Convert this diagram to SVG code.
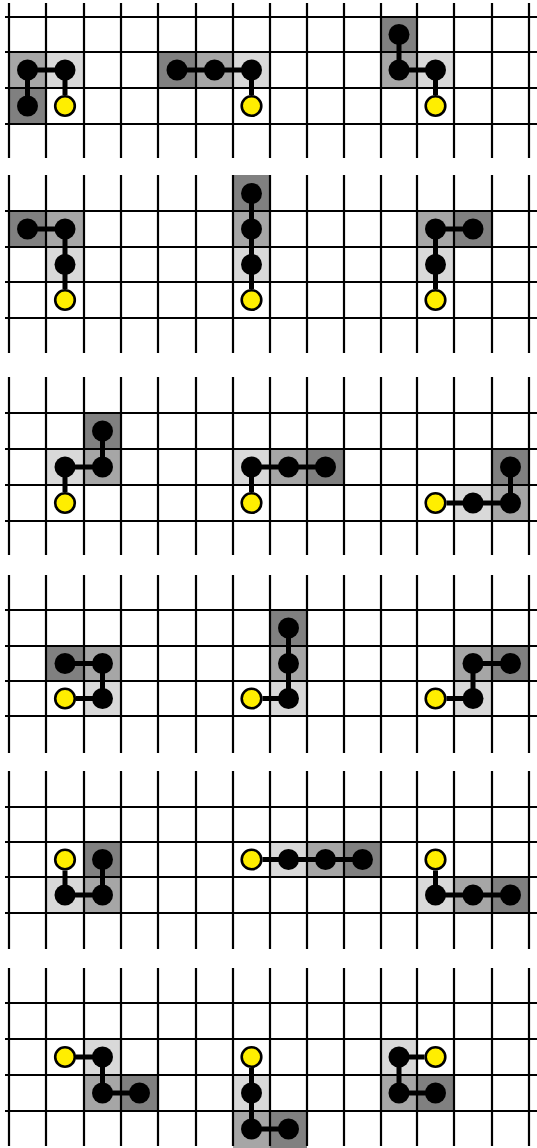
<svg xmlns="http://www.w3.org/2000/svg" xmlns:xlink="http://www.w3.org/1999/xlink" width="537" height="1148" viewBox="0 0 537 1148">
<style>
.grid{stroke:#000;stroke-width:2.2;fill:none}
.l{fill:#d9d9d9}
.m{fill:#a6a6a6}
.d{fill:#808080}
.con{stroke:#000;stroke-width:5;fill:none;stroke-linejoin:miter}
.b{fill:#000}
.y{fill:#ffee00;stroke:#000;stroke-width:2.6}
</style>
<defs>
<path id="vcols" d="M9 0V178M46 0V178M84 0V178M121 0V178M158 0V178M196 0V178M233 0V178M270 0V178M307 0V178M344 0V178M381 0V178M417 0V178M454 0V178M492 0V178M529 0V178"/>
</defs>
<rect width="537" height="1148" fill="#fff"/>

<!-- nodes: shaded cells and dots -->
<g id="pieceA"><rect class="l" x="46" y="52" width="38" height="36"/><rect class="m" x="9" y="52" width="37" height="36"/><rect class="d" x="9" y="88" width="37" height="36"/></g>
<g id="pieceB"><rect class="l" x="233" y="52" width="37" height="36"/><rect class="m" x="196" y="52" width="37" height="36"/><rect class="d" x="158" y="52" width="38" height="36"/></g>
<g id="pieceC"><rect class="l" x="417" y="52" width="37" height="36"/><rect class="m" x="381" y="52" width="36" height="36"/><rect class="d" x="381" y="17" width="36" height="35"/></g>
<g id="pieceD"><rect class="l" x="46" y="247" width="38" height="35"/><rect class="m" x="46" y="211" width="38" height="36"/><rect class="d" x="9" y="211" width="37" height="36"/></g>
<g id="pieceE"><rect class="l" x="233" y="247" width="37" height="35"/><rect class="m" x="233" y="211" width="37" height="36"/><rect class="d" x="233" y="175" width="37" height="36"/></g>
<g id="pieceF"><rect class="l" x="417" y="247" width="37" height="35"/><rect class="m" x="417" y="211" width="37" height="36"/><rect class="d" x="454" y="211" width="38" height="36"/></g>
<g id="pieceG"><rect class="l" x="46" y="449" width="38" height="36"/><rect class="m" x="84" y="449" width="37" height="36"/><rect class="d" x="84" y="413" width="37" height="36"/></g>
<g id="pieceH"><rect class="l" x="233" y="449" width="37" height="36"/><rect class="m" x="270" y="449" width="37" height="36"/><rect class="d" x="307" y="449" width="37" height="36"/></g>
<g id="pieceI"><rect class="l" x="454" y="485" width="38" height="36"/><rect class="m" x="492" y="485" width="37" height="36"/><rect class="d" x="492" y="449" width="37" height="36"/></g>
<g id="pieceJ"><rect class="l" x="84" y="681" width="37" height="35"/><rect class="m" x="84" y="646" width="37" height="35"/><rect class="d" x="46" y="646" width="38" height="35"/></g>
<g id="pieceK"><rect class="l" x="270" y="681" width="37" height="35"/><rect class="m" x="270" y="646" width="37" height="35"/><rect class="d" x="270" y="610" width="37" height="36"/></g>
<g id="pieceL"><rect class="l" x="454" y="681" width="38" height="35"/><rect class="m" x="454" y="646" width="38" height="35"/><rect class="d" x="492" y="646" width="37" height="35"/></g>
<g id="pieceM"><rect class="l" x="46" y="877" width="38" height="36"/><rect class="m" x="84" y="877" width="37" height="36"/><rect class="d" x="84" y="842" width="37" height="35"/></g>
<g id="pieceN"><rect class="l" x="270" y="842" width="37" height="35"/><rect class="m" x="307" y="842" width="37" height="35"/><rect class="d" x="344" y="842" width="37" height="35"/></g>
<g id="pieceO"><rect class="l" x="417" y="877" width="37" height="36"/><rect class="m" x="454" y="877" width="38" height="36"/><rect class="d" x="492" y="877" width="37" height="36"/></g>
<g id="pieceP"><rect class="l" x="84" y="1039" width="37" height="36"/><rect class="m" x="84" y="1075" width="37" height="36"/><rect class="d" x="121" y="1075" width="37" height="36"/></g>
<g id="pieceQ"><rect class="l" x="233" y="1075" width="37" height="36"/><rect class="m" x="233" y="1111" width="37" height="37"/><rect class="d" x="270" y="1111" width="37" height="37"/></g>
<g id="pieceR"><rect class="l" x="381" y="1039" width="36" height="36"/><rect class="m" x="381" y="1075" width="36" height="36"/><rect class="d" x="417" y="1075" width="37" height="36"/></g>

<!-- grid -->
<g id="grid" class="grid">
<path d="M9 3V158M46 3V158M84 3V158M121 3V158M158 3V158M196 3V158M233 3V158M270 3V158M307 3V158M344 3V158M381 3V158M417 3V158M454 3V158M492 3V158M529 3V158"/>
<use xlink:href="#vcols" href="#vcols" transform="translate(0,175)"/>
<use xlink:href="#vcols" href="#vcols" transform="translate(0,377)"/>
<use xlink:href="#vcols" href="#vcols" transform="translate(0,575)"/>
<use xlink:href="#vcols" href="#vcols" transform="translate(0,771)"/>
<use xlink:href="#vcols" href="#vcols" transform="translate(0,968)"/>
<path d="M5 17H537M5 52H537M5 88H537M5 124H537
M5 211H537M5 247H537M5 282H537M5 318H537
M5 413H537M5 449H537M5 485H537M5 521H537
M5 610H537M5 646H537M5 681H537M5 716H537
M5 807H537M5 842H537M5 877H537M5 913H537
M5 1003H537M5 1039H537M5 1075H537M5 1111H537"/>
</g>

<!-- connectors -->
<g id="connectors" class="con">
<polyline points="65,95 65,70 27.5,70 27.5,106"/>
<polyline points="251.5,95 251.5,70 177,70"/>
<polyline points="435.5,95 435.5,70 399,70 399,34.5"/>
<polyline points="65,289 65,229 27.5,229"/>
<polyline points="251.5,289 251.5,193.5"/>
<polyline points="435.5,289 435.5,229 473,229"/>
<polyline points="65,492 65,467 102.5,467 102.5,431"/>
<polyline points="251.5,492 251.5,467 325.5,467"/>
<polyline points="446.5,503 510.5,503 510.5,467"/>
<polyline points="76,698.5 102.5,698.5 102.5,663.5 65,663.5"/>
<polyline points="262.5,698.5 288.5,698.5 288.5,628"/>
<polyline points="446.5,698.5 473,698.5 473,663.5 510.5,663.5"/>
<polyline points="65,870.5 65,895 102.5,895 102.5,859.5"/>
<polyline points="262.5,859.5 362.5,859.5"/>
<polyline points="435.5,870.5 435.5,895 510.5,895"/>
<polyline points="76,1057 102.5,1057 102.5,1093 139.5,1093"/>
<polyline points="251.5,1068 251.5,1129 288.5,1129"/>
<polyline points="424.5,1057 399,1057 399,1093 435.5,1093"/>
</g>

<!-- dots -->
<g id="dots">
<g id="dotsA"><circle class="b" cx="65" cy="70" r="10.5"/><circle class="b" cx="27.5" cy="70" r="10.5"/><circle class="b" cx="27.5" cy="106" r="10.5"/><circle class="y" cx="65" cy="106" r="9.8"/></g>
<g id="dotsB"><circle class="b" cx="251.5" cy="70" r="10.5"/><circle class="b" cx="214.5" cy="70" r="10.5"/><circle class="b" cx="177" cy="70" r="10.5"/><circle class="y" cx="251.5" cy="106" r="9.8"/></g>
<g id="dotsC"><circle class="b" cx="435.5" cy="70" r="10.5"/><circle class="b" cx="399" cy="70" r="10.5"/><circle class="b" cx="399" cy="34.5" r="10.5"/><circle class="y" cx="435.5" cy="106" r="9.8"/></g>
<g id="dotsD"><circle class="b" cx="65" cy="264.5" r="10.5"/><circle class="b" cx="65" cy="229" r="10.5"/><circle class="b" cx="27.5" cy="229" r="10.5"/><circle class="y" cx="65" cy="300" r="9.8"/></g>
<g id="dotsE"><circle class="b" cx="251.5" cy="264.5" r="10.5"/><circle class="b" cx="251.5" cy="229" r="10.5"/><circle class="b" cx="251.5" cy="193.5" r="10.5"/><circle class="y" cx="251.5" cy="300" r="9.8"/></g>
<g id="dotsF"><circle class="b" cx="435.5" cy="264.5" r="10.5"/><circle class="b" cx="435.5" cy="229" r="10.5"/><circle class="b" cx="473" cy="229" r="10.5"/><circle class="y" cx="435.5" cy="300" r="9.8"/></g>
<g id="dotsG"><circle class="b" cx="65" cy="467" r="10.5"/><circle class="b" cx="102.5" cy="467" r="10.5"/><circle class="b" cx="102.5" cy="431" r="10.5"/><circle class="y" cx="65" cy="503" r="9.8"/></g>
<g id="dotsH"><circle class="b" cx="251.5" cy="467" r="10.5"/><circle class="b" cx="288.5" cy="467" r="10.5"/><circle class="b" cx="325.5" cy="467" r="10.5"/><circle class="y" cx="251.5" cy="503" r="9.8"/></g>
<g id="dotsI"><circle class="b" cx="473" cy="503" r="10.5"/><circle class="b" cx="510.5" cy="503" r="10.5"/><circle class="b" cx="510.5" cy="467" r="10.5"/><circle class="y" cx="435.5" cy="503" r="9.8"/></g>
<g id="dotsJ"><circle class="b" cx="102.5" cy="698.5" r="10.5"/><circle class="b" cx="102.5" cy="663.5" r="10.5"/><circle class="b" cx="65" cy="663.5" r="10.5"/><circle class="y" cx="65" cy="698.5" r="9.8"/></g>
<g id="dotsK"><circle class="b" cx="288.5" cy="698.5" r="10.5"/><circle class="b" cx="288.5" cy="663.5" r="10.5"/><circle class="b" cx="288.5" cy="628" r="10.5"/><circle class="y" cx="251.5" cy="698.5" r="9.8"/></g>
<g id="dotsL"><circle class="b" cx="473" cy="698.5" r="10.5"/><circle class="b" cx="473" cy="663.5" r="10.5"/><circle class="b" cx="510.5" cy="663.5" r="10.5"/><circle class="y" cx="435.5" cy="698.5" r="9.8"/></g>
<g id="dotsM"><circle class="b" cx="65" cy="895" r="10.5"/><circle class="b" cx="102.5" cy="895" r="10.5"/><circle class="b" cx="102.5" cy="859.5" r="10.5"/><circle class="y" cx="65" cy="859.5" r="9.8"/></g>
<g id="dotsN"><circle class="b" cx="288.5" cy="859.5" r="10.5"/><circle class="b" cx="325.5" cy="859.5" r="10.5"/><circle class="b" cx="362.5" cy="859.5" r="10.5"/><circle class="y" cx="251.5" cy="859.5" r="9.8"/></g>
<g id="dotsO"><circle class="b" cx="435.5" cy="895" r="10.5"/><circle class="b" cx="473" cy="895" r="10.5"/><circle class="b" cx="510.5" cy="895" r="10.5"/><circle class="y" cx="435.5" cy="859.5" r="9.8"/></g>
<g id="dotsP"><circle class="b" cx="102.5" cy="1057" r="10.5"/><circle class="b" cx="102.5" cy="1093" r="10.5"/><circle class="b" cx="139.5" cy="1093" r="10.5"/><circle class="y" cx="65" cy="1057" r="9.8"/></g>
<g id="dotsQ"><circle class="b" cx="251.5" cy="1093" r="10.5"/><circle class="b" cx="251.5" cy="1129" r="10.5"/><circle class="b" cx="288.5" cy="1129" r="10.5"/><circle class="y" cx="251.5" cy="1057" r="9.8"/></g>
<g id="dotsR"><circle class="b" cx="399" cy="1057" r="10.5"/><circle class="b" cx="399" cy="1093" r="10.5"/><circle class="b" cx="435.5" cy="1093" r="10.5"/><circle class="y" cx="435.5" cy="1057" r="9.8"/></g>
</g>
</svg>
